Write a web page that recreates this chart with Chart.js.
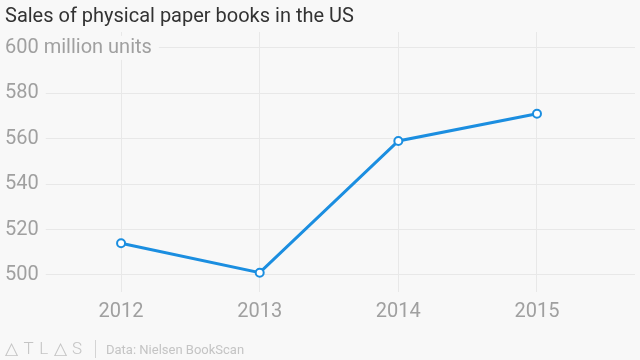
<!DOCTYPE html>
<html>
<head>
<meta charset="utf-8">
<script src="https://cdn.jsdelivr.net/npm/chart.js@4"></script>
<style>
  html, body { margin: 0; padding: 0; background: #f8f8f8; }
  #wrap { position: relative; width: 640px; height: 360px; overflow: hidden; }
  #chart { position: absolute; left: 0; top: 0; }
  .title { position: absolute; left: 5px; top: 3px; font: 20px Roboto, sans-serif; color: #333; white-space: nowrap; }
  .foot { position: absolute; left: 5px; top: 338px; height: 22px; font-family: Roboto, sans-serif; color: #c4c4c4; white-space: nowrap; }
  .logo { position: absolute; left: 0; top: 0; font-size: 17px; letter-spacing: 5.5px; font-weight: 300; }
  .sep { position: absolute; left: 90px; top: 2px; width: 1px; height: 18px; background: #d4d4d4; }
  .src { position: absolute; left: 101px; top: 4px; font-size: 13px; }
</style>
</head>
<body>
<div id="wrap">
  <canvas id="chart" width="640" height="360"></canvas>
  <div class="title">Sales of physical paper books in the US</div>
  <div class="foot">
    <span class="logo">△TL△S</span>
    <span class="sep"></span>
    <span class="src">Data: Nielsen BookScan</span>
  </div>
</div>
<script>
// data
const years = [2012, 2013, 2014, 2015]
const units = [514, 501, 559, 571]   // million units
const yTicks = [500, 520, 540, 560, 580, 600]

const gridColor = '#e8e8e8'
const tickColor = '#a0a0a0'
const lineColor = '#1b8ee0'

let points = []
for (let i = 0; i < years.length; i++) {
    points.push({ x: years[i], y: units[i] })
}

new Chart(document.getElementById('chart'), {
    type: 'line',
    data: {
        datasets: [{
            data: points,
            borderColor: lineColor,
            borderWidth: 3,
            tension: 0,
            pointRadius: 4,
            pointBorderWidth: 2,
            pointBackgroundColor: '#ffffff',
            pointBorderColor: lineColor,
            clip: false
        }]
    },
    options: {
        responsive: false,
        animation: false,
        events: [],
        layout: {
            autoPadding: false,
            padding: { left: 5, right: 5, top: 32, bottom: 38 }
        },
        plugins: {
            legend: { display: false },
            tooltip: { enabled: false }
        },
        scales: {
            x: {
                type: 'linear',
                min: 2011.437,
                max: 2015.707,
                afterBuildTicks: (scale) => { scale.ticks = years.map(v => ({ value: v })) },
                afterFit: (scale) => { scale.height = 30 },
                border: { display: false },
                grid: { color: gridColor, drawTicks: false },
                ticks: {
                    padding: 8,
                    color: tickColor,
                    font: { family: 'Roboto', size: 20 },
                    callback: (v) => String(v)
                }
            },
            y: {
                min: 492.5,
                max: 607,
                afterBuildTicks: (scale) => { scale.ticks = yTicks.map(v => ({ value: v })) },
                afterFit: (scale) => { scale.width = 38 },
                border: { display: false },
                grid: { color: gridColor, drawTicks: false },
                ticks: {
                    mirror: true,
                    crossAlign: 'near',
                    padding: -38,
                    color: tickColor,
                    font: { family: 'Roboto', size: 20 },
                    showLabelBackdrop: true,
                    backdropColor: '#f8f8f8',
                    backdropPadding: { left: 0, right: 7, top: 0, bottom: 0 },
                    callback: (v) => v === 600 ? '600 million units' : String(v)
                }
            }
        }
    }
})
</script>
</body>
</html>
